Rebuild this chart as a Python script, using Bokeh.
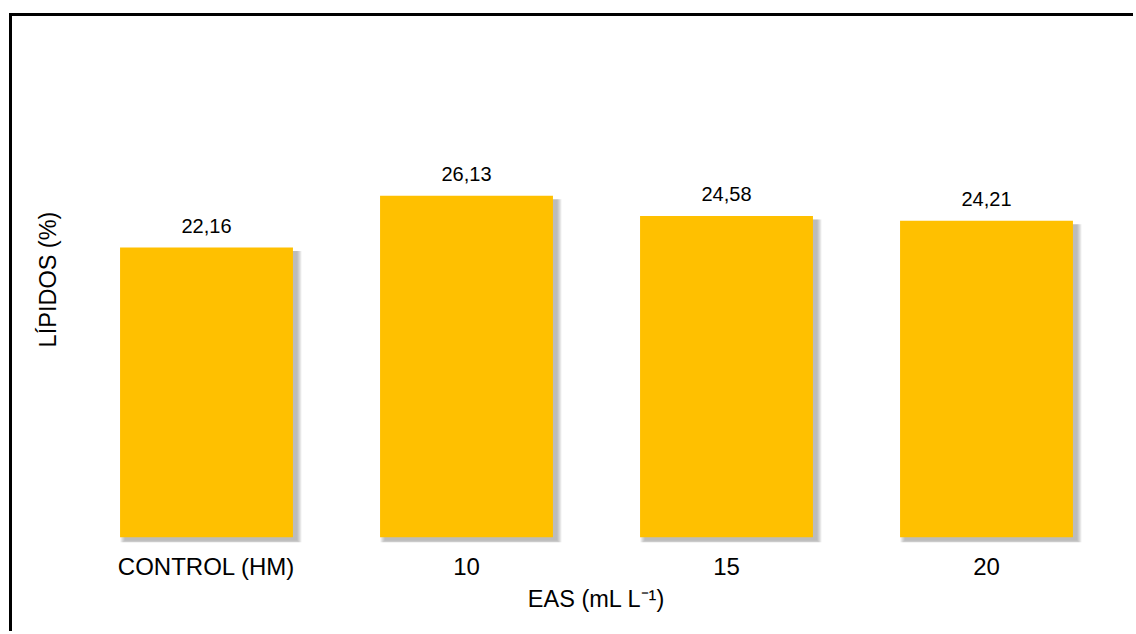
from bokeh.plotting import figure
from bokeh.models import ColumnDataSource, LabelSet, Range1d, FactorRange, FixedTicker
from bokeh.core.properties import value
from bokeh.transform import dodge
from bokeh.embed import file_html
from bokeh.resources import INLINE

# Lipid content per treatment
categories = ["CONTROL (HM)", "10", "15", "20"]
lipids = [22.16, 26.13, 24.58, 24.21]
value_labels = [f"{v:.2f}".replace(".", ",") for v in lipids]

x_title = "EAS (mL L\u207b\u00b9)"
y_title = "LÍPIDOS (%)"

FONT = "Liberation Sans"
BAR_COLOR = "#FFC000"

Y_START, Y_END = -0.4, 39.84
FRAME_H = 526
px_per_unit = FRAME_H / (Y_END - Y_START)
shadow_dy = 3.5 / px_per_unit

source = ColumnDataSource(dict(
    cat=categories,
    val=lipids,
    label=value_labels,
    shadow_top=[v - shadow_dy for v in lipids],
))

p = figure(
    x_range=FactorRange(*categories, range_padding=0),
    y_range=Range1d(Y_START, Y_END),
    width=1124, height=618,
    min_border_left=64, min_border_right=20,
    min_border_top=0, min_border_bottom=92,
    output_backend="svg", toolbar_location=None,
)
# chart area border (top and left edges)
p.margin = (13, 0, 0, 9)
p.styles = {"border-top": "3px solid black", "border-left": "3px solid black"}

p.x_range.factor_padding = 0
p.outline_line_color = None
p.grid.visible = False
p.background_fill_color = "white"
p.border_fill_color = "white"

# soft drop shadow behind each bar
bar_w = 0.665
for k in range(5):
    grow = (4 - k) * 1.0
    p.vbar(x=dodge("cat", 4.5 / 260, range=p.x_range), top="shadow_top",
           bottom=-3.5 / px_per_unit - grow / px_per_unit,
           width=bar_w + 2 * grow / 260,
           source=source, fill_color="#7f7f7f", fill_alpha=0.13,
           line_color=None)

p.vbar(x="cat", top="val", bottom=0, width=bar_w, source=source,
       fill_color=BAR_COLOR, line_color=None)

labels = LabelSet(x="cat", y="val", text="label", source=source,
                  y_offset=15, text_align="center", text_baseline="alphabetic",
                  text_font=value(FONT), text_font_size="20px", text_color="black")
p.add_layout(labels)

# x axis
p.xaxis.axis_line_color = None
p.xaxis.major_tick_line_color = None
p.xaxis.minor_tick_line_color = None
p.xaxis.major_label_text_font = FONT
p.xaxis.major_label_text_font_size = "24px"
p.xaxis.major_label_text_color = "black"
p.xaxis.major_label_standoff = 4
p.xaxis.axis_label = x_title
p.xaxis.axis_label_text_font = FONT
p.xaxis.axis_label_text_font_size = "23.5px"
p.xaxis.axis_label_text_font_style = "normal"
p.xaxis.axis_label_text_color = "black"
p.xaxis.axis_label_standoff = 3

# y axis: title only
p.yaxis.ticker = FixedTicker(ticks=[])
p.yaxis.axis_line_color = None
p.yaxis.major_tick_line_color = None
p.yaxis.minor_tick_line_color = None
p.yaxis.axis_label = y_title
p.yaxis.axis_label_text_font = FONT
p.yaxis.axis_label_text_font_size = "23.5px"
p.yaxis.axis_label_text_font_style = "normal"
p.yaxis.axis_label_text_color = "black"
p.yaxis.axis_label_standoff = 16

open("out.html", "w").write(file_html(p, INLINE))
